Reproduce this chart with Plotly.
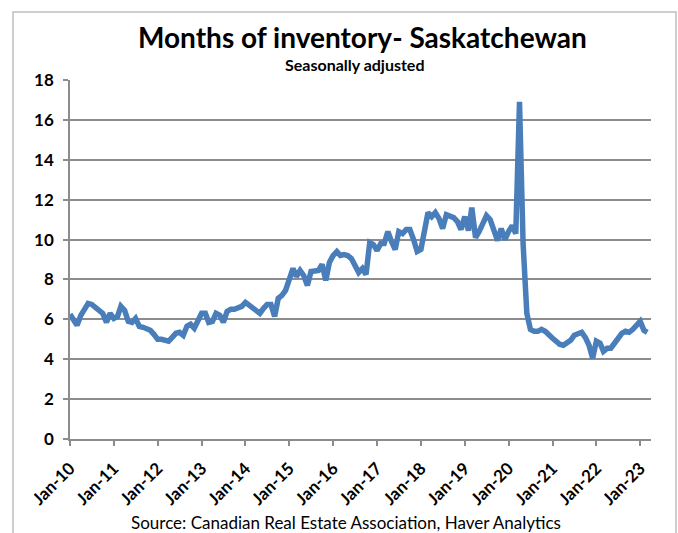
import pandas as pd
import plotly.graph_objects as go

months = pd.date_range("2010-01-01", periods=159, freq="MS")

v2010 = [6.25, 6.0, 5.7, 6.2, 6.45, 6.8, 6.75, 6.6, 6.4, 6.3, 5.85, 6.3]
v2011 = [6.05, 6.15, 6.65, 6.45, 5.9, 5.85, 6.05, 5.65, 5.6, 5.5, 5.45, 5.25]
v2012 = [5.0, 5.0, 4.95, 4.9, 5.1, 5.3, 5.35, 5.2, 5.65, 5.75, 5.55, 5.95]
v2013 = [6.3, 6.3, 5.85, 5.9, 6.3, 6.2, 5.85, 6.4, 6.5, 6.5, 6.55, 6.65]
v2014 = [6.85, 6.7, 6.6, 6.45, 6.3, 6.55, 6.75, 6.75, 6.15, 7.05, 7.2, 7.45]
v2015 = [8.1, 8.55, 8.15, 8.45, 8.2, 7.7, 8.4, 8.45, 8.45, 8.75, 7.95, 8.85]
v2016 = [9.2, 9.4, 9.2, 9.25, 9.2, 9.05, 8.75, 8.35, 8.55, 8.25, 9.85, 9.75]
v2017 = [9.45, 9.8, 9.8, 10.4, 9.9, 9.5, 10.4, 10.3, 10.5, 10.5, 10.0, 9.4]
v2018 = [9.5, 10.5, 11.35, 11.15, 11.35, 11.05, 10.55, 11.25, 11.2, 11.1, 10.9, 10.5]
v2019 = [11.15, 10.45, 11.6, 10.1, 10.4, 10.75, 11.2, 11.0, 10.5, 9.95, 10.55, 10.0]
v2020 = [10.4, 10.7, 10.3, 16.9, 9.8, 6.3, 5.5, 5.4, 5.4, 5.5, 5.4, 5.2]
v2021 = [5.05, 4.9, 4.75, 4.7, 4.8, 4.95, 5.2, 5.3, 5.35, 5.1, 4.7, 4.05]
v2022 = [4.9, 4.8, 4.4, 4.55, 4.55, 4.8, 5.1, 5.3, 5.4, 5.35, 5.5, 5.7]
v2023 = [5.9, 5.45, 5.35]

values = (v2010 + v2011 + v2012 + v2013 + v2014 + v2015 + v2016 + v2017
          + v2018 + v2019 + v2020 + v2021 + v2022 + v2023)

y_ticks = [0, 2, 4, 6, 8, 10, 12, 14, 16, 18]

title_text = "Months of inventory- Saskatchewan"
subtitle_text = "Seasonally adjusted"
source_text = "Source: Canadian Real Estate Association, Haver Analytics"

BOLD = "Lato"
W, H = 678, 533
ML, MR, MT, MB = 70, 27, 80, 94
PW = W - ML - MR
PH = H - MT - MB


def px_x(p):
    return (p - ML) / PW


def px_y(p):
    return (H - MB - p) / PH


fig = go.Figure()
fig.add_trace(go.Scatter(
    x=months, y=values, mode="lines",
    line=dict(color="#4a7ebb", width=5.5),
    hoverinfo="x+y", showlegend=False,
))

grid_col = "#8c8c8c"
fig.update_layout(
    width=W, height=H,
    margin=dict(l=ML, r=MR, t=MT, b=MB),
    paper_bgcolor="white", plot_bgcolor="white",
    xaxis=dict(
        type="date",
        range=["2010-01-01", "2023-04-01"],
        tick0="2010-01-01", dtick="M12", tickformat="%b-%y",
        tickangle=-45,
        ticks="outside", ticklen=5, tickcolor=grid_col, tickwidth=1.5,
        ticklabelstandoff=6,
        showgrid=False, showline=True, linecolor=grid_col, linewidth=1.5,
        zeroline=False,
        tickfont=dict(family=BOLD, size=17, color="black", weight="bold"),
    ),
    yaxis=dict(
        range=[0, 18], tickvals=y_ticks,
        ticks="outside", ticklen=5, tickcolor=grid_col, tickwidth=1.5,
        ticklabelstandoff=6,
        showgrid=True, gridcolor=grid_col, gridwidth=1.5,
        showline=True, linecolor=grid_col, linewidth=1.5,
        zeroline=False,
        tickfont=dict(family=BOLD, size=17, color="black", weight="bold"),
    ),
    shapes=[dict(
        type="rect", xref="paper", yref="paper",
        x0=px_x(13), x1=px_x(676), y0=px_y(560), y1=px_y(12),
        line=dict(color="#bfbfbf", width=1.5), fillcolor="rgba(0,0,0,0)",
        layer="below",
    )],
    annotations=[
        dict(text=title_text, xref="paper", yref="paper",
             x=px_x(362), y=px_y(37), xanchor="center", yanchor="middle",
             showarrow=False,
             font=dict(family=BOLD, size=28, color="black", weight="bold")),
        dict(text=subtitle_text, xref="paper", yref="paper",
             x=px_x(355), y=px_y(65), xanchor="center", yanchor="middle",
             showarrow=False,
             font=dict(family=BOLD, size=16, color="black", weight="bold")),
        dict(text=source_text, xref="paper", yref="paper",
             x=px_x(346), y=px_y(522), xanchor="center", yanchor="middle",
             showarrow=False,
             font=dict(family=BOLD, size=17, color="black")),
    ],
)

fig.write_html(
    "out.html",
    config={"displayModeBar": False},
    post_script="document.body.style.margin='0';document.body.style.overflow='hidden';",
)
